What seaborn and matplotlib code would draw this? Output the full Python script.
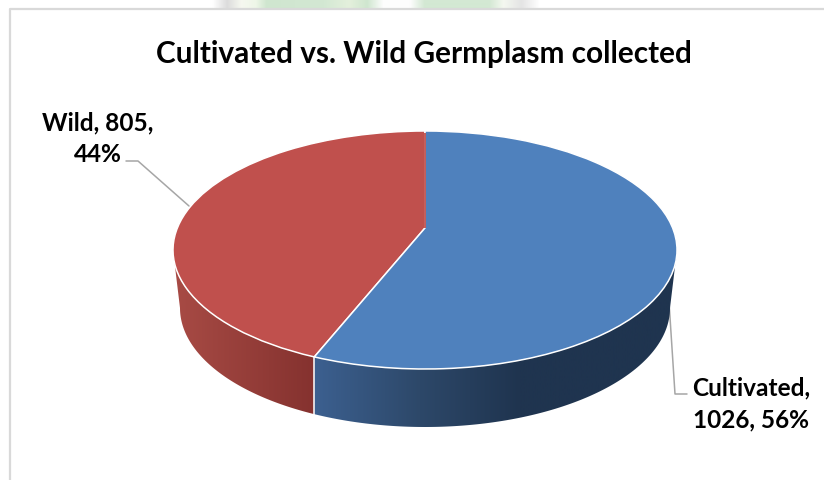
import numpy as np
import matplotlib
matplotlib.use('Agg')
import matplotlib.pyplot as plt
import matplotlib.transforms as mtrans
from matplotlib.colors import LinearSegmentedColormap
from matplotlib.patches import Polygon
import seaborn as sns

labels = ['Wild', 'Cultivated']
values = [805, 1026]
percents = [44, 56]
top_colors = ['#c0504d', '#4f81bd']
title = 'Cultivated vs. Wild Germplasm collected'

sns.set_style('white')
plt.rcParams['font.family'] = ['Lato', 'DejaVu Sans']

# everything below is in image pixels
cx, cy, rx, ry = 425, 251, 252, 119
depth, rx_low = 58, 245
tilt = 0.185


class Tilted(mtrans.Transform):
    # keeps the unit circle a circle but moves its centre, then squashes it
    input_dims = output_dims = 2

    def transform_non_affine(self, xy):
        xy = np.asarray(xy)
        w = 1 + tilt * xy[:, 1]
        x = xy[:, 0] * np.sqrt(1 - tilt ** 2) / w
        y = (xy[:, 1] + tilt) / w
        return np.column_stack([cx + rx * x, cy - ry * y])


fig, ax = plt.subplots(figsize=(8.24, 4.81), dpi=100)
fig.subplots_adjust(0, 0, 1, 1)

wedges, _ = ax.pie(values, colors=top_colors, startangle=90,
                   wedgeprops={'edgecolor': 'white', 'linewidth': 1.1, 'zorder': 4})
ax.set_aspect('auto')
ax.axis('off')

tilted = Tilted()
for w in wedges:
    w.set_transform(tilted + ax.transData)

# the back radius has no white line
split = np.radians(90 + 360 * values[0] / sum(values))
ax.plot(*tilted.transform(np.array([[0, 0], [0, 0.98]])).T, color=top_colors[0], lw=1.3,
        solid_capstyle='butt', zorder=5)

# side wall
split_x, split_y = tilted.transform(np.array([[np.cos(split), np.sin(split)]]))[0]
t = np.linspace(0, np.pi, 200)
upper = np.column_stack([cx + rx * np.cos(t), cy + ry * np.sin(t)])
lower = np.column_stack([cx + rx_low * np.cos(t), cy + depth + ry * np.sin(t)])[::-1]
wall = Polygon(np.vstack([upper, lower]), closed=True, transform=ax.transData,
               facecolor='none', edgecolor='none')
ax.add_patch(wall)

x0, x1 = cx - rx, cx + rx
pos = lambda x: (x - x0) / (x1 - x0)
stops = [(0, '#a84b45'), (pos(split_x - 1), '#85322f'), (pos(split_x), '#3c6090'),
         (pos(420), '#2d4869'), (pos(520), '#1f344f'), (1, '#1f344f')]
cmap = LinearSegmentedColormap.from_list('wall', stops, N=512)
img = ax.imshow(np.linspace(0, 1, 512)[None, :], cmap=cmap, aspect='auto',
                extent=(x0, x1, 481, 0), zorder=2)
img.set_clip_path(wall)
ax.plot([split_x, split_x], [split_y, split_y + depth], color='white', lw=1.1, zorder=3)

# faded logo showing above the chart frame
strip_stops = [(0, '#ffffff'), (0.09, '#ffffff'), (0.13, '#dcdcdc'), (0.17, '#f6f8f0'),
               (0.21, '#eef6e8'), (0.24, '#cfe6cf'), (0.40, '#d3e8d3'), (0.47, '#e4f0dc'),
               (0.52, '#cfe6cf'), (0.565, '#fdfdfd'), (0.64, '#fdfdfd'), (0.68, '#d3e8d3'),
               (0.86, '#d3e8d3'), (0.90, '#f4f8f0'), (0.95, '#e4e4e4'), (1, '#ffffff')]
strip = LinearSegmentedColormap.from_list('strip', strip_stops, N=360)
ax.imshow(np.linspace(0, 1, 360)[None, :], cmap=strip, aspect='auto',
          extent=(180, 540, 9, 0), zorder=0.5, interpolation='bilinear')
ax.set_xlim(0, 824)
ax.set_ylim(481, 0)

# frame
ax.plot([824, 10.5, 10.5], [9.5, 9.5, 481], color='#d9d9d9', lw=1.6, zorder=1)

# leader lines
ax.plot([126, 138, 189], [162, 162, 207], color='#a6a6a6', lw=1.1, zorder=6)
ax.plot([669, 675, 687], [303, 395, 395], color='#a6a6a6', lw=1.1, zorder=1.5)

ax.text(424, 54, title, ha='center', va='center', fontsize=21.4, fontweight='bold', color='black')
ax.text(98, 139, f'{labels[0]}, {values[0]},\n{percents[0]}%', ha='center', va='center',
        fontsize=17.6, fontweight='bold', color='black', linespacing=1.47)
ax.text(751, 404, f'{labels[1]},\n{values[1]}, {percents[1]}%', ha='center', va='center',
        fontsize=17.6, fontweight='bold', color='black', linespacing=1.47)

fig.savefig('out.png', dpi=100)
